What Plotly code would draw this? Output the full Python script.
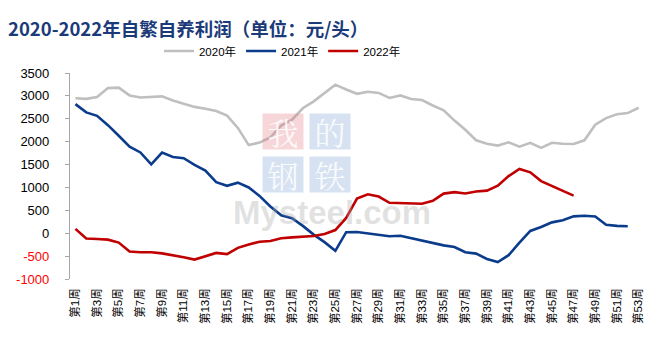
import plotly.graph_objects as go

weeks = list(range(1, 54))
week_labels = [f"第{w}周" for w in weeks]

profit_2020 = [2950, 2935, 2975, 3170, 3180, 3010, 2965, 2970, 2990, 2900,
               2835, 2760, 2720, 2670, 2570, 2300, 1925, 1980, 2090, 2350,
               2480, 2730, 2880, 3060, 3245, 3140, 3045, 3090, 3065, 2955,
               3010, 2930, 2910, 2790, 2685, 2460, 2260, 2030, 1955, 1915,
               1985, 1890, 1975, 1865, 1975, 1955, 1950, 2030, 2370, 2515,
               2600, 2625, 2740]
profit_2021 = [2820, 2640, 2565, 2360, 2130, 1890, 1765, 1505, 1760, 1665,
               1640, 1495, 1370, 1115, 1035, 1105, 1000, 815, 585, 390,
               328, 160, -30, -195, -385, 22, 25, 0, -29, -65,
               -55, -110, -165, -225, -265, -300, -416, -445, -562, -630,
               -480, -205, 50, 135, 237, 285, 368, 383, 365, 185,
               160, 153, None]
profit_2022 = [95, -115, -125, -140, -205, -400, -415, -415, -440, -475,
               -525, -575, -505, -430, -455, -320, -245, -185, -170, -110,
               -90, -73, -62, -18, 70, 335, 758, 850, 802, 665,
               657, 650, 645, 708, 865, 898, 868, 912, 930, 1040,
               1248, 1405, 1330, 1138, 1030, 920, 820]

series_names = ["2020年", "2021年", "2022年"]
series_colors = ["#BFBFBF", "#0B3C8C", "#C00000"]

y_min, y_max, y_step = -1000, 3500, 500
y_ticks = list(range(y_min, y_max + 1, y_step))
y_ticktext = [f'<span style="color:#FF0000">{v}</span>' if v < 0 else str(v) for v in y_ticks]

x_range = [weeks[0] - 0.5, weeks[-1] + 0.5]
boundaries = [w - 0.5 for w in weeks] + [weeks[-1] + 0.5]

fig = go.Figure()
for name, vals, col in zip(series_names, [profit_2020, profit_2021, profit_2022], series_colors):
    fig.add_trace(go.Scatter(
        x=weeks[:len(vals)], y=vals, name=name, mode="lines",
        line=dict(color=col, width=2.6), connectgaps=False,
        hoverinfo="skip"))

zero_pos = (0 - y_min) / (y_max - y_min)

fig.update_layout(
    width=665, height=352,
    margin=dict(l=70, r=21, t=73, b=73),
    paper_bgcolor="white", plot_bgcolor="white",
    font=dict(family="Liberation Sans, Arial, Noto Sans CJK SC", size=12, color="#000000"),
    title=dict(
        text="<b>2020-2022年自繁自养利润（单位：元/头）</b>",
        x=8 / 665, xref="container", xanchor="left", y=1 - 30 / 352, yanchor="middle",
        pad=dict(l=0, r=0, t=0, b=0),
        font=dict(family="Noto Sans CJK SC, Liberation Sans", size=18.5, color="#1B3A7A")),
    showlegend=True,
    legend=dict(
        orientation="h", x=0.155, xanchor="left", y=1 + (73 - 51) / 206, yanchor="middle",
        font=dict(size=11.5, family="Liberation Sans, Noto Sans CJK SC"),
        bgcolor="rgba(0,0,0,0)", traceorder="normal",
        itemwidth=30),
    xaxis=dict(
        range=x_range, tickmode="array", tickvals=weeks[::2], ticktext=week_labels[::2],
        tickangle=-90, showline=False, showgrid=False, zeroline=False,
        ticks="", ticklabelstandoff=6,
        tickfont=dict(size=11.5, family="Liberation Sans, Noto Sans CJK SC")),
    xaxis2=dict(
        overlaying="x", anchor="free", position=zero_pos, side="bottom",
        range=x_range, tickmode="array", tickvals=boundaries,
        showticklabels=False, showline=True, linecolor="#A6A6A6", linewidth=1.2,
        ticks="outside", ticklen=4, tickcolor="#A6A6A6", tickwidth=1,
        showgrid=False, zeroline=False),
    yaxis=dict(
        range=[y_min, y_max], tickmode="array", tickvals=y_ticks, ticktext=y_ticktext,
        showline=True, linecolor="#A6A6A6", linewidth=1.2,
        ticks="outside", ticklen=4, tickcolor="#A6A6A6",
        showgrid=False, zeroline=False, ticklabelstandoff=13,
        tickfont=dict(size=13, family="Liberation Sans, Arial")),
)

# Mysteel watermark
wm = [("我", 283, 131, "rgba(230,120,130,0.30)"),
      ("的", 330, 131, "rgba(120,160,210,0.30)"),
      ("钢", 283, 174, "rgba(120,160,210,0.30)"),
      ("铁", 330, 174, "rgba(120,160,210,0.30)")]
for ch, px, py, bg in wm:
    fig.add_annotation(
        text=ch, xref="paper", yref="paper",
        x=(px - 70) / 574, y=1 - (py - 73) / 206,
        showarrow=False, font=dict(size=31, color="rgba(255,255,255,0.85)",
                                   family="Noto Serif CJK SC, Noto Sans CJK SC"),
        bgcolor=bg, width=40, height=35, borderpad=0,
        xanchor="center", yanchor="middle")
fig.add_annotation(
    text="<b>Mysteel.com</b>", xref="paper", yref="paper",
    x=(232 - 70) / 574, y=1 - (212 - 73) / 206, xanchor="left", yanchor="middle",
    showarrow=False, borderpad=0,
    font=dict(size=33, color="rgba(170,170,170,0.35)", family="Liberation Sans, Arial"))

fig.write_html("out.html")
